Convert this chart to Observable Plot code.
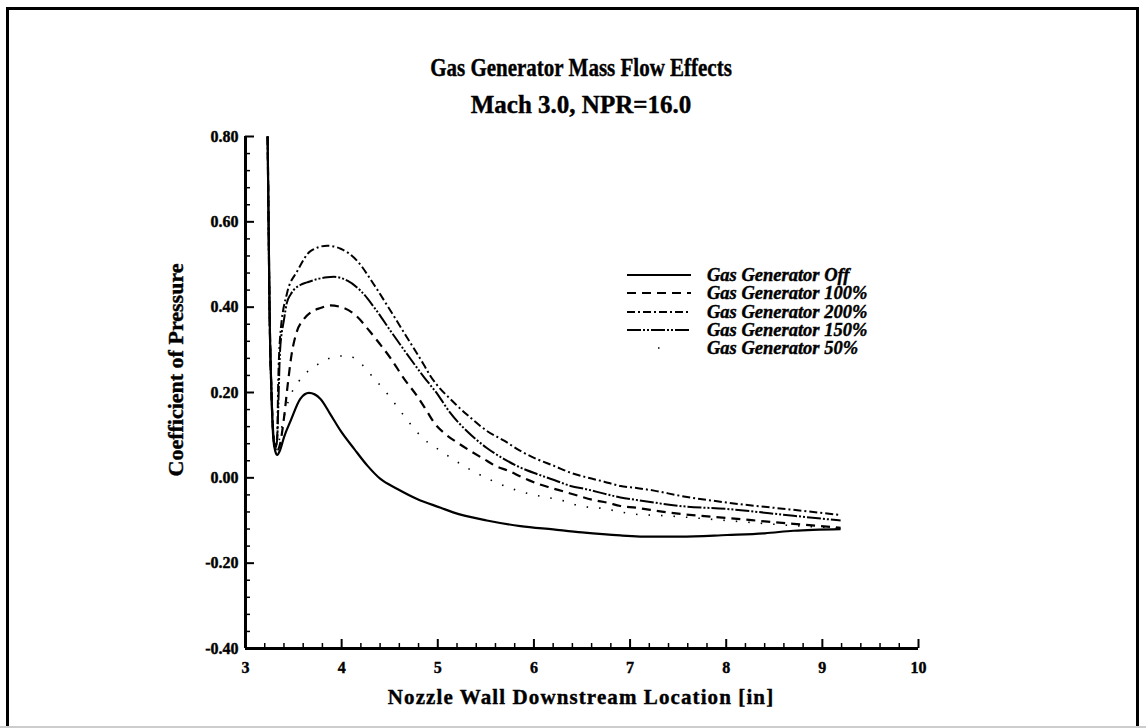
<!DOCTYPE html>
<html>
<head>
<meta charset="utf-8">
<script src="https://cdn.jsdelivr.net/npm/d3@7"></script>
<script src="https://cdn.jsdelivr.net/npm/@observablehq/plot@0.6"></script>
<style>
  body { margin: 0; background: #fff; }
  #wrap { position: relative; width: 1146px; height: 728px; overflow: hidden; background: #fff;
          font-family: "Liberation Serif", "Times New Roman", serif; color: #000; }
  #frame { position: absolute; left: 6px; top: 7px; width: 1127px; height: 760px; border: 3px solid #000; border-bottom: none; }
  #bottomline { position: absolute; left: 0; top: 726px; width: 1146px; height: 2px; background: #ccc; }
  .ttl { position: absolute; left: 331px; width: 500px; text-align: center; font-weight: bold; font-size: 25px; line-height: 30px; white-space: nowrap; -webkit-text-stroke: 0.4px #000; }
  #title { transform: scaleX(0.84); }
  #xlabel { position: absolute; left: 281px; width: 600px; top: 685px; text-align: center; font-weight: bold; font-size: 21px; letter-spacing: 1.1px; line-height: 24px; white-space: nowrap; -webkit-text-stroke: 0.4px #000; }
  #ylabel { position: absolute; left: 176px; top: 370px; transform: translate(-50%, -50%) rotate(-90deg); font-weight: bold; font-size: 22px; line-height: 24px; white-space: nowrap; -webkit-text-stroke: 0.4px #000; }
  #legend { position: absolute; left: 626px; top: 266px; }
  .row { display: flex; align-items: center; height: 18.3px; }
  .row svg { display: block; margin-right: 15px; }
  .row span { font-weight: bold; font-style: italic; font-size: 18.5px; line-height: 18px; white-space: nowrap; -webkit-text-stroke: 0.4px #000; }
  #chart { position: absolute; left: 0; top: 0; }
  #chart svg text { stroke: #000; stroke-width: 0.4px; paint-order: stroke; }
</style>
</head>
<body>
<div id="wrap">
  <div id="frame"></div>
  <div id="bottomline"></div>
  <div id="chart"></div>
  <div class="ttl" id="title" style="top:53px;">Gas Generator Mass Flow Effects</div>
  <div class="ttl" id="subtitle" style="top:90px;">Mach 3.0, NPR=16.0</div>
  <div id="ylabel">Coefficient of Pressure</div>
  <div id="xlabel">Nozzle Wall Downstream Location [in]</div>
  <div id="legend"></div>
</div>
<script>
// ---- Data ----
const seriesNames = ["Gas Generator Off", "Gas Generator 100%", "Gas Generator 200%", "Gas Generator 150%", "Gas Generator 50%"];

const offX = [3.23, 3.24, 3.25, 3.27, 3.29, 3.31, 3.33, 3.36, 3.40, 3.47, 3.57, 3.66, 3.78, 3.88, 3.99, 4.13, 4.27, 4.40, 4.58, 4.79, 5.03, 5.16, 5.51, 5.86, 6.20, 6.50, 6.90, 7.24, 7.52, 8.01, 8.40, 8.70, 9.19];
const offY = [0.80, 0.60, 0.40, 0.20, 0.09, 0.062, 0.054, 0.065, 0.095, 0.134, 0.185, 0.199, 0.185, 0.15, 0.11, 0.068, 0.028, -0.002, -0.026, -0.05, -0.07, -0.081, -0.10, -0.113, -0.121, -0.128, -0.135, -0.138, -0.138, -0.134, -0.13, -0.124, -0.12];

const g100X = [3.23, 3.24, 3.25, 3.27, 3.29, 3.31, 3.33, 3.36, 3.40, 3.44, 3.48, 3.53, 3.60, 3.68, 3.78, 3.88, 4.01, 4.15, 4.29, 4.40, 4.51, 4.65, 4.79, 4.89, 4.96, 5.06, 5.20, 5.34, 5.48, 5.60, 5.74, 5.88, 6.03, 6.17, 6.31, 6.46, 6.62, 6.76, 6.90, 7.06, 7.21, 7.39, 7.50, 8.01, 8.70, 9.19];
const g100Y = [0.80, 0.60, 0.40, 0.20, 0.10, 0.07, 0.065, 0.08, 0.14, 0.22, 0.29, 0.34, 0.37, 0.388, 0.398, 0.404, 0.399, 0.38, 0.344, 0.313, 0.28, 0.232, 0.19, 0.155, 0.13, 0.106, 0.083, 0.063, 0.044, 0.028, 0.016, 0.001, -0.013, -0.023, -0.032, -0.042, -0.052, -0.058, -0.066, -0.07, -0.075, -0.081, -0.084, -0.094, -0.108, -0.117];

const g200X = [3.23, 3.24, 3.25, 3.27, 3.29, 3.31, 3.33, 3.34, 3.36, 3.43, 3.54, 3.68, 3.85, 3.99, 4.16, 4.33, 4.51, 4.68, 4.85, 4.92, 5.17, 5.34, 5.51, 5.69, 5.86, 6.03, 6.21, 6.38, 6.55, 6.73, 6.90, 7.07, 7.25, 7.52, 8.01, 8.70, 9.19];
const g200Y = [0.80, 0.60, 0.40, 0.20, 0.10, 0.07, 0.10, 0.22, 0.33, 0.431, 0.485, 0.532, 0.544, 0.537, 0.509, 0.455, 0.391, 0.329, 0.267, 0.24, 0.176, 0.141, 0.11, 0.087, 0.063, 0.044, 0.028, 0.012, 0.001, -0.009, -0.019, -0.024, -0.030, -0.042, -0.058, -0.075, -0.087];

const g150X = [3.23, 3.24, 3.25, 3.27, 3.29, 3.31, 3.33, 3.34, 3.36, 3.40, 3.43, 3.47, 3.57, 3.64, 3.75, 3.85, 3.92, 4.06, 4.20, 4.34, 4.51, 4.68, 4.85, 5.00, 5.13, 5.31, 5.51, 5.69, 5.86, 6.03, 6.21, 6.38, 6.55, 6.73, 6.90, 7.07, 7.25, 7.52, 8.01, 8.70, 9.19];
const g150Y = [0.80, 0.60, 0.40, 0.20, 0.10, 0.07, 0.09, 0.16, 0.30, 0.37, 0.41, 0.43, 0.452, 0.458, 0.466, 0.47, 0.471, 0.462, 0.438, 0.399, 0.344, 0.29, 0.238, 0.195, 0.152, 0.108, 0.07, 0.044, 0.024, 0.009, -0.005, -0.019, -0.027, -0.037, -0.046, -0.052, -0.058, -0.066, -0.073, -0.089, -0.10];

const g50X = [3.23, 3.24, 3.25, 3.27, 3.29, 3.31, 3.33, 3.36, 3.42, 3.48, 3.53, 3.58, 3.65, 3.80, 3.95, 4.07, 4.17, 4.33, 4.50, 4.65, 4.84, 5.03, 5.27, 5.53, 5.79, 5.96, 6.14, 6.31, 6.48, 6.69, 7.04, 7.38, 8.00, 8.70, 9.19];
const g50Y = [0.80, 0.60, 0.40, 0.20, 0.10, 0.07, 0.065, 0.10, 0.16, 0.20, 0.216, 0.235, 0.25, 0.272, 0.285, 0.286, 0.274, 0.235, 0.19, 0.145, 0.094, 0.063, 0.028, -0.003, -0.027, -0.038, -0.046, -0.054, -0.066, -0.071, -0.085, -0.089, -0.10, -0.112, -0.118];

const xTicks = [3, 4, 5, 6, 7, 8, 9, 10];
const yTicks = [-0.40, -0.20, 0.00, 0.20, 0.40, 0.60, 0.80];
const xMinor = d3.range(3, 10.0001, 0.2).filter(v => Math.abs(v - Math.round(v)) > 1e-6);
const yMinor = d3.range(-0.4, 0.80001, 0.04).filter(v => Math.abs(v * 5 - Math.round(v * 5)) > 1e-6);

// ---- styles ----
const styles = {
  "Gas Generator Off": { dash: null, width: 2.2 },
  "Gas Generator 100%": { dash: "9,6", width: 2.2 },
  "Gas Generator 200%": { dash: "8,3,2,3", width: 2 },
  "Gas Generator 150%": { dash: "14,2,2,2,2,2", width: 2 },
  "Gas Generator 50%": { dash: "1.5,11", width: 1.6 }
};

const pairs = [[offX, offY], [g100X, g100Y], [g200X, g200Y], [g150X, g150Y], [g50X, g50Y]];
const rows = [];
seriesNames.forEach((name, i) => {
  const [xs, ys] = pairs[i];
  xs.forEach((x, j) => rows.push({ series: name, x, y: ys[j] }));
});

const lineMarks = seriesNames.map(name => Plot.line(rows.filter(r => r.series === name), {
  x: "x", y: "y", curve: "monotone-x", stroke: "#000",
  strokeWidth: styles[name].width, strokeDasharray: styles[name].dash, strokeLinecap: "butt"
}));

const chart = Plot.plot({
  width: 1146, height: 728,
  marginLeft: 245, marginRight: 228, marginTop: 136, marginBottom: 80,
  x: { domain: [3, 10], label: null },
  y: { domain: [-0.4, 0.8], label: null },
  style: { fontFamily: "'Liberation Serif', 'Times New Roman', serif", background: "transparent", color: "#000", overflow: "visible" },
  marks: [
    Plot.axisX(xTicks, { tickSize: -9, tickPadding: 22, strokeWidth: 2, fontSize: 16, fontWeight: "bold", label: null, tickFormat: d => String(d) }),
    Plot.axisX(xMinor, { tickSize: -5, strokeWidth: 1.5, label: null, tickFormat: () => "" }),
    Plot.axisY(yTicks, { tickSize: -9, tickPadding: 16, strokeWidth: 2, fontSize: 16, fontWeight: "bold", label: null, tickFormat: d => d.toFixed(2) }),
    Plot.axisY(yMinor, { tickSize: -5, strokeWidth: 1.5, label: null, tickFormat: () => "" }),
    Plot.ruleX([3], { strokeWidth: 3 }),
    Plot.ruleY([-0.4], { strokeWidth: 3 }),
    ...lineMarks
  ]
});
document.getElementById("chart").appendChild(chart);

// ---- legend ----
const legend = document.getElementById("legend");
seriesNames.forEach(name => {
  const row = document.createElement("div");
  row.className = "row";
  const st = styles[name];
  const isDot = name === "Gas Generator 50%";
  row.innerHTML = `<svg width="66" height="18"><line x1="1" x2="65" y1="9" y2="9" stroke="#000" stroke-width="${st.width}" ${st.dash ? `stroke-dasharray="${isDot ? "1.5,80" : st.dash}"` : ""} ${isDot ? 'stroke-dashoffset="-31"' : ""}/></svg><span>${name}</span>`;
  legend.appendChild(row);
});
</script>
</body>
</html>
